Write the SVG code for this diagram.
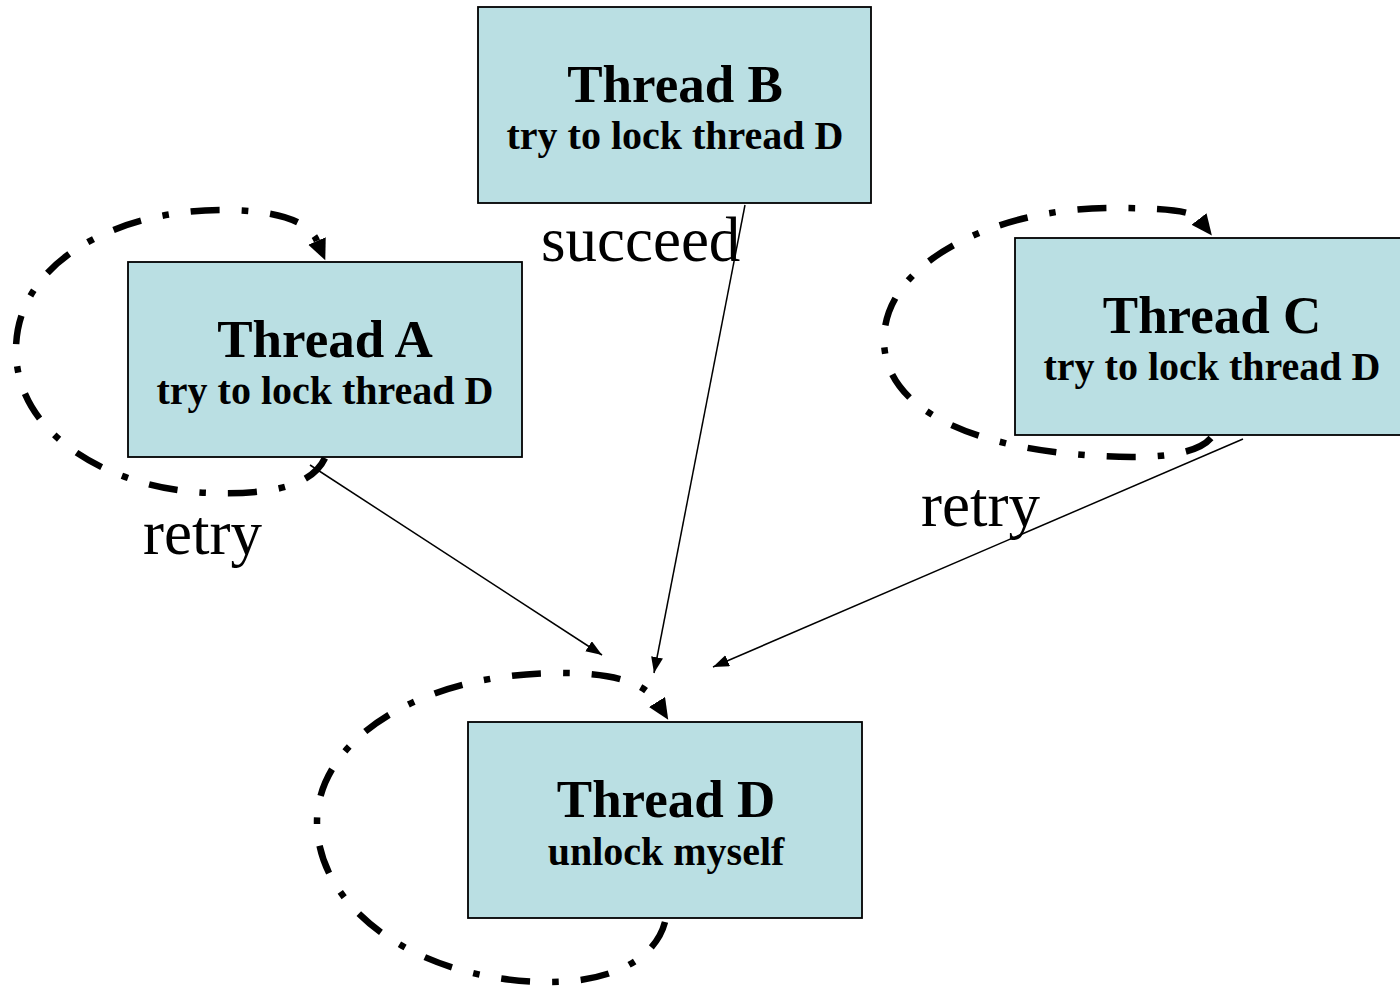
<svg xmlns="http://www.w3.org/2000/svg" width="1400" height="988" viewBox="0 0 1400 988">
  <style>
    .box { fill: #BADFE3; stroke: #000; stroke-width: 1.8; }
    .title { font-family: "Liberation Serif", "Times New Roman", serif; font-weight: bold; font-size: 53px; text-anchor: middle; fill: #000; }
    .sub { font-family: "Liberation Serif", "Times New Roman", serif; font-weight: bold; font-size: 40px; text-anchor: middle; fill: #000; }
    .lbl { font-family: "Liberation Serif", "Times New Roman", serif; font-size: 63px; fill: #000; }
    .loop { fill: none; stroke: #000; stroke-width: 6.5; stroke-dasharray: 29 22 6.5 22; marker-end: url(#bigArrow); }
    .edge { fill: none; stroke: #000; stroke-width: 1.5; marker-end: url(#thinArrow); }
  </style>
  <defs>
    <marker id="bigArrow" markerUnits="userSpaceOnUse" markerWidth="22" markerHeight="20" refX="0" refY="9.5" orient="auto">
      <path d="M0,0 L21,9.5 L0,19 z" fill="#000"/>
    </marker>
    <marker id="thinArrow" markerUnits="userSpaceOnUse" markerWidth="17" markerHeight="13" refX="16" refY="6" orient="auto">
      <path d="M0,0 L16,6 L0,12 z" fill="#000"/>
    </marker>
  </defs>

  <rect width="1400" height="988" fill="#fff"/>

  <g id="labels">
    <text class="lbl" x="541" y="261">succeed</text>
    <text class="lbl" x="143" y="554">retry</text>
    <text class="lbl" x="921" y="526">retry</text>
  </g>

  <g id="connectors">
    <path class="loop" d="M325,458 C310,490 260,494 215,493 C120,492 16,440 16,350 C16,260 120,210 222,210 C275,210 308,220 317,241"/>
    <path class="loop" d="M1211,438 C1198,453 1165,457 1132,457 C1000,456 884,420 884,340 C884,260 1000,208 1110,208 C1160,208 1192,210 1199,219"/>
    <path class="loop" d="M665,922 C655,960 610,982 550,982 C420,982 317,910 317,822 C317,740 420,673 560,673 C615,673 645,683 657,702"/>
    <line class="edge" x1="310" y1="465" x2="602" y2="655"/>
    <line class="edge" x1="745" y1="205" x2="654" y2="673"/>
    <line class="edge" x1="1243" y1="439" x2="713" y2="667"/>
  </g>

  <g id="threadB">
    <rect class="box" x="478" y="7" width="393" height="196"/>
    <text class="title" x="675" y="102">Thread B</text>
    <text class="sub" x="675" y="149">try to lock thread D</text>
  </g>

  <g id="threadA">
    <rect class="box" x="128" y="262" width="394" height="195"/>
    <text class="title" x="325" y="357">Thread A</text>
    <text class="sub" x="325" y="404">try to lock thread D</text>
  </g>

  <g id="threadC">
    <rect class="box" x="1015" y="238" width="394" height="197"/>
    <text class="title" x="1212" y="333">Thread C</text>
    <text class="sub" x="1212" y="380">try to lock thread D</text>
  </g>

  <g id="threadD">
    <rect class="box" x="468" y="722" width="394" height="196"/>
    <text class="title" x="666" y="817">Thread D</text>
    <text class="sub" x="666" y="865">unlock myself</text>
  </g>
</svg>
